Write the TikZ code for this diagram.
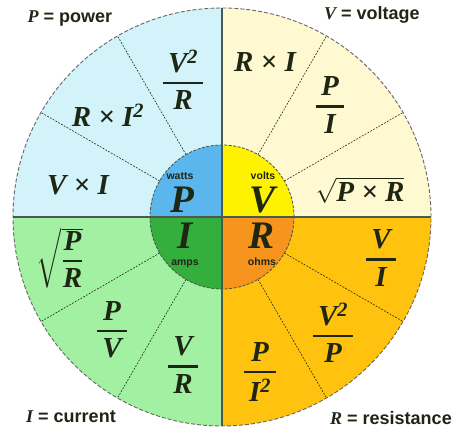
\documentclass[tikz,border=0pt]{standalone}
\usepackage{amsmath}
\usepackage{fontspec}
\setmainfont{Liberation Serif}
\setsansfont{Liberation Sans}
\definecolor{cP}{HTML}{D2F3FA}
\definecolor{cV}{HTML}{FFF9D2}
\definecolor{cI}{HTML}{A2F0A2}
\definecolor{cR}{HTML}{FFC20E}
\definecolor{iP}{HTML}{5CB6EE}
\definecolor{iV}{HTML}{FFF200}
\definecolor{iI}{HTML}{34AE3C}
\definecolor{iR}{HTML}{F7941D}
\definecolor{ink}{HTML}{1E2614}
\definecolor{axisc}{HTML}{4A5A50}
\newcommand\fr[2]{$\displaystyle\genfrac{}{}{2.2pt}{0}{\hbox{\,#1\,}}{\hbox{\,#2\,}}$}
\newcommand\sq[1]{$\sqrt{\hbox{#1}}$}
\tikzset{
  formula/.style={font=\fontsize{29}{32}\selectfont\bfseries\itshape, text=ink, inner sep=0pt},
  big/.style={font=\fontsize{39}{41}\selectfont\bfseries\itshape, text=ink, inner sep=0pt, text height=25.5pt, text depth=0pt},
  unit/.style={font=\fontsize{10.5}{12}\selectfont\sffamily\bfseries, text=ink, inner sep=0pt, text height=7.5pt, text depth=1pt},
  legend/.style={font=\fontsize{18}{20}\selectfont\sffamily\bfseries, text=ink, inner sep=0pt},
  radial/.style={draw=ink, line width=0.6pt, dash pattern=on 1.8pt off 1.4pt},
  outer/.style={draw=gray!80!black, line width=0.9pt, dash pattern=on 4pt off 2pt},
  innerc/.style={draw=ink!80, line width=0.8pt, dash pattern=on 3pt off 1.5pt},
  axisline/.style={draw=axisc, line width=1.6pt}
}
\begin{document}
\begin{tikzpicture}[x=1pt,y=1pt]
\useasboundingbox[fill=white] (-222,-214) rectangle (239,217);
% outer sectors
\fill[cV] (0,0) -- (0:209) arc[start angle=0,end angle=90,radius=209] -- cycle;
\fill[cP] (0,0) -- (90:209) arc[start angle=90,end angle=180,radius=209] -- cycle;
\fill[cI] (0,0) -- (180:209) arc[start angle=180,end angle=270,radius=209] -- cycle;
\fill[cR] (0,0) -- (270:209) arc[start angle=270,end angle=360,radius=209] -- cycle;
% radial dividers
\foreach \a in {30,60,120,150,210,240,300,330}
  \draw[radial] (\a:72) -- (\a:209);
% inner sectors
\fill[iV] (0,0) -- (0:72) arc[start angle=0,end angle=90,radius=72] -- cycle;
\fill[iP] (0,0) -- (90:72) arc[start angle=90,end angle=180,radius=72] -- cycle;
\fill[iI] (0,0) -- (180:72) arc[start angle=180,end angle=270,radius=72] -- cycle;
\fill[iR] (0,0) -- (270:72) arc[start angle=270,end angle=360,radius=72] -- cycle;
\draw[innerc] (0,0) circle[radius=72];
\draw[outer] (0,0) circle[radius=209];
\draw[axisline] (-209,0) -- (209,0);
\draw[axisline] (0,-209) -- (0,209);
% P quadrant
\node[formula] (p1) at (-39,137) {\fr{\textit{V}\textsuperscript{2}}{\textit{R}}};
\node[formula] (p2) at (-114,102) {\textit{R} × \textit{I}\textsuperscript{2}};
\node[formula] (p3) at (-144,32) {\textit{V} × \textit{I}};
% V quadrant
\node[formula] (v1) at (43,155) {\textit{R} × \textit{I}};
\node[formula] (v2) at (108,112) {\fr{\textit{P}}{\textit{I}}};
\node[formula] (v3) at (138,27) {\sq{\textbf{\textit{P} × \textit{R}}}};
% I quadrant
\node[formula] (i1) at (-162,-41) {$\sqrt{\genfrac{}{}{2.2pt}{0}{\hbox{\bfseries\itshape P}}{\hbox{\bfseries\itshape R}}}$};
\node[formula] (i2) at (-110,-113) {\fr{\textit{P}}{\textit{V}}};
\node[formula] (i3) at (-39,-148) {\fr{\textit{V}}{\textit{R}}};
% R quadrant
\node[formula] (r1) at (159,-41) {\fr{\textit{V}}{\textit{I}}};
\node[formula] (r2) at (111,-116) {\fr{\textit{V}\textsuperscript{2}}{\textit{P}}};
\node[formula] (r3) at (38,-155) {\fr{\textit{P}}{\textit{I}\textsuperscript{2}}};
% centre
\node[unit] (wat) at (-42,41) {watts};
\node[big] (cPn) at (-40,17) {P};
\node[unit] (vol) at (41,41) {volts};
\node[big] (cVn) at (41,17) {V};
\node[big] (cIn) at (-37,-19) {I};
\node[unit] (amp) at (-37,-45) {amps};
\node[big] (cRn) at (40,-19) {R};
\node[unit] (ohm) at (40,-45) {ohms};
% legends
\node[legend] (lP) at (-152,199) {{\rmfamily\itshape P} = power};
\node[legend] (lV) at (150,202) {{\rmfamily\itshape V} = voltage};
\node[legend] (lI) at (-151,-200) {{\rmfamily\itshape I} = current};
\node[legend] (lR) at (169,-201) {{\rmfamily\itshape R} = resistance};
\end{tikzpicture}
\end{document}
